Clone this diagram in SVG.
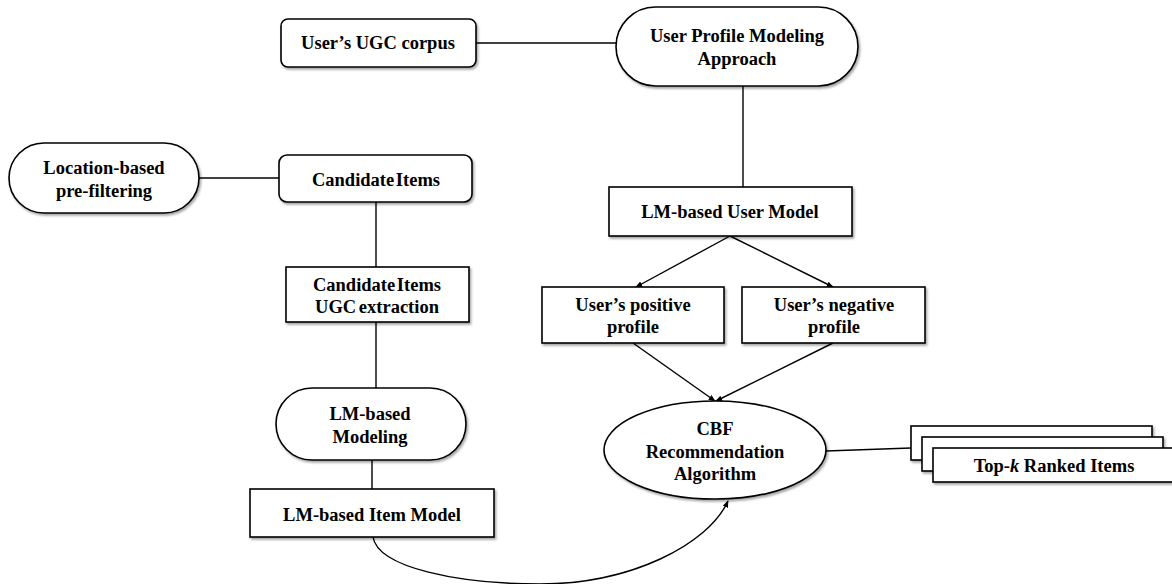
<svg xmlns="http://www.w3.org/2000/svg" width="1172" height="584" viewBox="0 0 1172 584">
<defs>
<filter id="sh" x="-10%" y="-10%" width="125%" height="130%">
<feDropShadow dx="1.5" dy="2" stdDeviation="1" flood-color="#000" flood-opacity="0.35"/>
</filter>
<marker id="ah" viewBox="0 0 10 10" refX="9" refY="5" markerWidth="7" markerHeight="7" orient="auto" markerUnits="userSpaceOnUse">
<path d="M0,1 L10,5 L0,9 z" fill="#000"/>
</marker>
</defs>
<style>
.box{fill:#fff;stroke:#000;stroke-width:1.6;filter:url(#sh)}
.t{font-family:"Liberation Serif","Times New Roman",serif;font-weight:bold;font-size:18.5px;text-anchor:middle;fill:#000}
.c{fill:none;stroke:#000;stroke-width:1.4}
</style>
<rect width="1172" height="584" fill="#fff"/>
<g id="connectors">
<line class="c" x1="476" y1="43" x2="617" y2="43"/>
<line class="c" x1="743" y1="86" x2="743" y2="187"/>
<line class="c" x1="199" y1="178" x2="279" y2="178"/>
<line class="c" x1="376" y1="202" x2="376" y2="267"/>
<line class="c" x1="376" y1="322" x2="376" y2="388"/>
<line class="c" x1="372" y1="460" x2="372" y2="489"/>
<line class="c" x1="730" y1="236" x2="636" y2="287" marker-end="url(#ah)"/>
<line class="c" x1="730" y1="236" x2="833" y2="287" marker-end="url(#ah)"/>
<line class="c" x1="633" y1="343" x2="715" y2="401" marker-end="url(#ah)"/>
<line class="c" x1="833" y1="343" x2="716" y2="401" marker-end="url(#ah)"/>
<line class="c" x1="826" y1="451" x2="911" y2="448"/>
<path class="c" d="M373,537 C378,568 460,584 540,584 C630,584 708,545 728,501" marker-end="url(#ah)"/>
</g>
<g id="ugc">
<rect class="box" x="281" y="19" width="195" height="48" rx="7"/>
<text class="t" x="378" y="49">User’s UGC corpus</text>
</g>
<g id="upma">
<rect class="box" x="616" y="7" width="242" height="79" rx="39.5"/>
<text class="t" x="737" y="42">User Profile Modeling</text>
<text class="t" x="737" y="65">Approach</text>
</g>
<g id="loc">
<rect class="box" x="9" y="143" width="190" height="70" rx="35"/>
<text class="t" x="104" y="174">Location-based</text>
<text class="t" x="104" y="197">pre-filtering</text>
</g>
<g id="cand">
<rect class="box" x="279" y="155" width="193" height="47" rx="8"/>
<text class="t" x="376" y="186" word-spacing="-3">Candidate Items</text>
</g>
<g id="candugc">
<rect class="box" x="286" y="267" width="183" height="55"/>
<text class="t" x="377" y="291" word-spacing="-3">Candidate Items</text>
<text class="t" x="377" y="313" word-spacing="-2">UGC extraction</text>
</g>
<g id="lmmod">
<rect class="box" x="276" y="388" width="190" height="72" rx="36"/>
<text class="t" x="370" y="420">LM-based</text>
<text class="t" x="370" y="443">Modeling</text>
</g>
<g id="item">
<rect class="box" x="250" y="489" width="244" height="48"/>
<text class="t" x="372" y="521">LM-based Item Model</text>
</g>
<g id="usermodel">
<rect class="box" x="609" y="187" width="243" height="49"/>
<text class="t" x="730" y="218">LM-based User Model</text>
</g>
<g id="pos">
<rect class="box" x="542" y="287" width="182" height="56"/>
<text class="t" x="633" y="311">User’s positive</text>
<text class="t" x="633" y="333">profile</text>
</g>
<g id="neg">
<rect class="box" x="742" y="287" width="183" height="56"/>
<text class="t" x="834" y="311">User’s negative</text>
<text class="t" x="834" y="333">profile</text>
</g>
<g id="cbf">
<ellipse class="box" cx="715" cy="450" rx="111" ry="49"/>
<text class="t" x="715" y="435">CBF</text>
<text class="t" x="715" y="458">Recommendation</text>
<text class="t" x="715" y="480">Algorithm</text>
</g>
<g id="topk">
<rect class="box" x="911" y="426" width="241" height="34"/>
<rect class="box" x="922" y="437" width="241" height="34"/>
<rect class="box" x="933" y="448" width="245" height="34"/>
<text class="t" x="1054" y="472">Top-<tspan font-style="italic">k</tspan> Ranked Items</text>
</g>
</svg>
